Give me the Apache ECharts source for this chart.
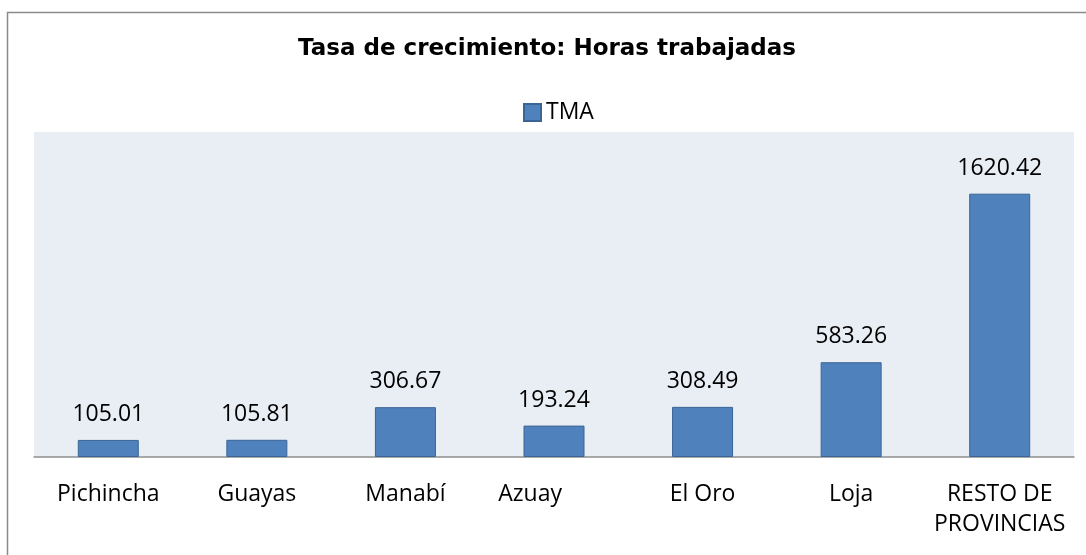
<!DOCTYPE html>
<html>
<head>
<meta charset="utf-8">
<script src="https://cdn.jsdelivr.net/npm/echarts@6/dist/echarts.min.js"></script>
<style>
  html, body { margin: 0; padding: 0; background: #ffffff; }
  #chart { width: 1086px; height: 555px; }
</style>
</head>
<body>
<div id="chart"></div>
<script>
// Provinces (the Azuay label carries trailing spaces, as in the source sheet)
const categories = ['Pichincha', 'Guayas', 'Manabí', 'Azuay        ', 'El Oro', 'Loja', 'RESTO DE\nPROVINCIAS'];
// TMA growth rate of hours worked
const tmaValues = [105.01, 105.81, 306.67, 193.24, 308.49, 583.26, 1620.42];
const seriesName = 'TMA';
const titleText = 'Tasa de crecimiento: Horas trabajadas';

const chart = echarts.init(document.getElementById('chart'), null, { renderer: 'canvas' });

const bodyFont = '"Open Sans", "Noto Sans", sans-serif';

chart.setOption({
  animation: false,
  backgroundColor: '#ffffff',
  title: {
    text: titleText,
    left: 542,
    textAlign: 'center',
    top: 33,
    textStyle: {
      fontFamily: '"DejaVu Sans", sans-serif',
      fontWeight: 'bold',
      fontSize: 23,
      color: '#000000'
    }
  },
  legend: {
    data: [seriesName],
    left: 518,
    top: 96,
    itemWidth: 17,
    itemHeight: 17,
    icon: 'rect',
    textStyle: {
      fontFamily: bodyFont,
      fontSize: 23,
      color: '#000000'
    }
  },
  grid: {
    left: 34,
    right: 12,
    top: 132,
    bottom: 98,
    show: true,
    backgroundColor: '#E9EDF4',
    borderWidth: 0,
    containLabel: false
  },
  xAxis: {
    type: 'category',
    data: categories,
    axisLine: { show: true, lineStyle: { color: '#8E8E8E', width: 1.5 } },
    axisTick: { show: false },
    axisLabel: {
      interval: 0,
      margin: 22,
      fontFamily: bodyFont,
      fontSize: 23,
      lineHeight: 30,
      color: '#000000',
      align: 'center'
    }
  },
  yAxis: {
    type: 'value',
    min: 0,
    max: 2000,
    interval: 500,
    show: false,
    splitLine: { show: false }
  },
  series: [{
    name: seriesName,
    type: 'bar',
    data: tmaValues,
    barWidth: 61,
    itemStyle: {
      color: '#4F81BD',
      borderColor: '#3A6595',
      borderWidth: 1
    },
    label: {
      show: true,
      position: 'top',
      distance: 14,
      fontFamily: bodyFont,
      fontSize: 23,
      color: '#000000',
      formatter: p => p.value.toFixed(2)
    }
  }],
  graphic: [{
    type: 'rect',
    shape: { x: 7.5, y: 12.5, width: 1300, height: 800 },
    style: { fill: 'none', stroke: '#8A8A8A', lineWidth: 1.5 },
    silent: true,
    z: 100
  }]
});
</script>
</body>
</html>
